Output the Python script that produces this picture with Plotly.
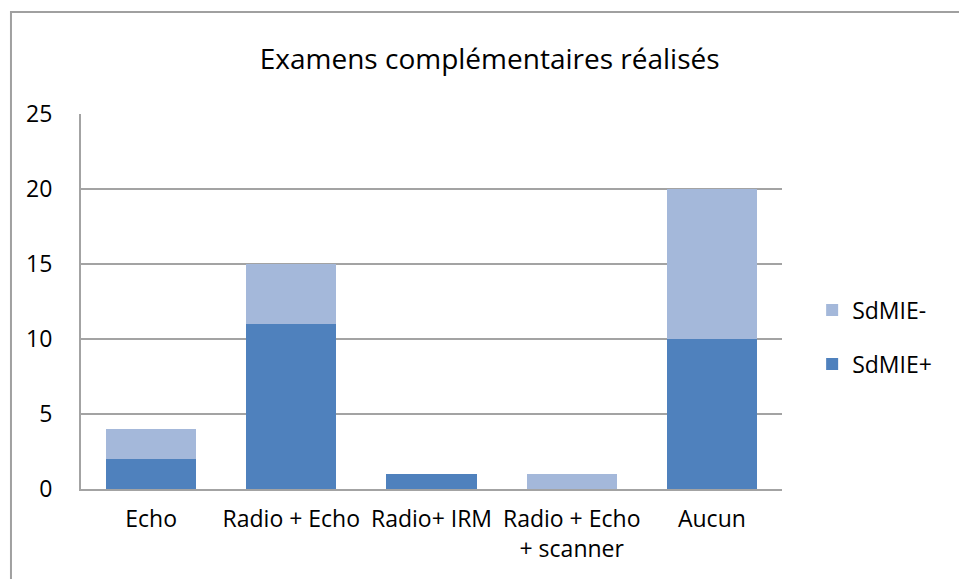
import plotly.graph_objects as go

# Exam categories and patient counts per group
categories = ["Echo", "Radio + Echo", "Radio+ IRM", "Radio + Echo<br>+ scanner", "Aucun"]
sdmie_pos = [2, 11, 1, 0, 10]
sdmie_neg = [2, 4, 0, 1, 10]
y_ticks = [0, 5, 10, 15, 20, 25]

FONT = "Open Sans"
GRID = "#a3a3a3"

fig = go.Figure()
fig.add_trace(go.Bar(
    x=categories, y=sdmie_pos, name="SdMIE+",
    marker=dict(color="#4f81bd", line=dict(width=0)),
    legendgroup="pos", legendrank=2,
))
fig.add_trace(go.Bar(
    x=categories, y=sdmie_neg, name="SdMIE-",
    marker=dict(color="#a4b8da", line=dict(width=0)),
    legendgroup="neg", legendrank=1,
))

fig.update_layout(
    width=959, height=579,
    barmode="stack",
    bargap=0.357,
    margin=dict(l=81, r=177, t=114, b=90),
    paper_bgcolor="white",
    plot_bgcolor="white",
    font=dict(family=FONT, size=23, color="black"),
    title=dict(
        text="Examens complémentaires réalisés",
        x=0.583, xanchor="center", xref="paper",
        y=0.897, yanchor="middle",
        font=dict(family=FONT, size=28, color="black"),
    ),
    showlegend=True,
    legend=dict(
        x=1.043, xanchor="left",
        y=0.405, yanchor="middle",
        traceorder="grouped",
        tracegroupgap=21,
        font=dict(family=FONT, size=23, color="black"),
        itemwidth=30,
        bgcolor="rgba(0,0,0,0)",
    ),
    xaxis=dict(
        showgrid=False,
        showline=True, linecolor=GRID, linewidth=2,
        ticks="", tickfont=dict(family=FONT, size=23),
        ticklabelstandoff=8,
        fixedrange=True,
    ),
    yaxis=dict(
        range=[0, 25],
        tickvals=y_ticks,
        showgrid=True, gridcolor=GRID, gridwidth=2,
        showline=True, linecolor=GRID, linewidth=2,
        zeroline=False,
        ticks="", tickfont=dict(family=FONT, size=23),
        ticklabelstandoff=22,
        fixedrange=True,
    ),
    shapes=[
        dict(
            type="rect", xref="paper", yref="paper",
            x0=-0.0999, x1=1.27, y0=-0.3, y1=1.272,
            line=dict(color="#a0a0a0", width=2),
            fillcolor="rgba(0,0,0,0)", layer="below",
        )
    ],
)

fig.write_html("out.html")
